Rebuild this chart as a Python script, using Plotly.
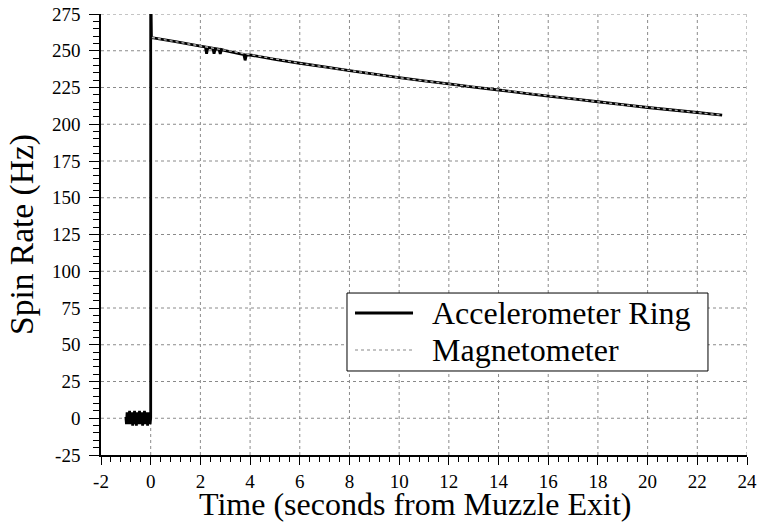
import plotly.graph_objects as go

# ---- data ----
# pre-launch accelerometer noise (t < 0)
acc_pre_time = [-1.000, -0.975, -0.950, -0.925, -0.900, -0.875, -0.850, -0.825, -0.800, -0.775,
                -0.750, -0.725, -0.700, -0.675, -0.650, -0.625, -0.600, -0.575, -0.550, -0.525,
                -0.500, -0.475, -0.450, -0.425, -0.400, -0.375, -0.350, -0.325, -0.300, -0.275,
                -0.250, -0.225, -0.200, -0.175, -0.150, -0.125, -0.100, -0.075, -0.050, -0.025, 0.000]
acc_pre_rate = [1, -4, 4, -3, 3, -4, 5, -3, 3, -4,
                4, -5, 2, -3, 5, -4, 3, -5, 4, -3,
                3, -4, 5, -4, 3, -3, 4, -5, 3, -4,
                5, -3, 3, -4, 4, -5, 3, -3, 4, -4, 0]
# launch spike at muzzle exit
acc_spike_time = [0.0]
acc_spike_rate = [300]
# post-exit accelerometer (with small dropouts near 2-4 s)
acc_post_time = [0.03, 1, 2, 2.2, 2.25, 2.3, 2.5, 2.55, 2.6, 2.75, 2.8, 2.85, 3, 3.75, 3.8, 3.85, 4,
                 5, 6, 7, 8, 9, 10, 11, 12, 13, 14, 15, 16, 17, 18, 19, 20, 21, 22, 23]
acc_post_rate = [259, 256.2, 253.2, 252.6, 248.0, 252.3, 251.7, 248.0, 251.5, 251.0, 247.8, 250.8, 250.1,
                 247.3, 243.5, 247.1, 247.1,
                 244.2, 241.5, 239.0, 236.5, 234.1, 231.7, 229.5, 227.4, 225.3, 223.3, 221.2, 219.1,
                 217.2, 215.3, 213.3, 211.4, 209.7, 208.0, 206.2]
# magnetometer
mag_time = [0.05, 1, 2, 3, 4, 5, 6, 7, 8, 9, 10, 11, 12, 13, 14, 15, 16, 17, 18, 19, 20, 21, 22, 23]
mag_rate = [259, 256.2, 253.2, 250.1, 247.1, 244.2, 241.5, 239.0, 236.5, 234.1, 231.7, 229.5, 227.4,
            225.3, 223.3, 221.2, 219.1, 217.2, 215.3, 213.3, 211.4, 209.7, 208.0, 206.2]

x_ticks = [-2, 0, 2, 4, 6, 8, 10, 12, 14, 16, 18, 20, 22, 24]
y_ticks = [-25, 0, 25, 50, 75, 100, 125, 150, 175, 200, 225, 250, 275]
series_names = ["Accelerometer Ring", "Magnetometer"]
x_title = "Time (seconds from Muzzle Exit)"
y_title = "Spin Rate (Hz)"

FONT = "Liberation Serif, Times New Roman, serif"
ACC_LINE = dict(color="black", width=2.8)
MAG_LINE = dict(color="#b0b0b0", width=1.4, dash="dot")
GRID = dict(color="#8a8a8a", width=1, dash="dot")

acc_time = acc_pre_time + acc_spike_time + acc_post_time
acc_rate = acc_pre_rate + acc_spike_rate + acc_post_rate

fig = go.Figure()
fig.add_trace(go.Scatter(x=acc_time, y=acc_rate, mode="lines", name=series_names[0],
                         line=dict(**ACC_LINE, simplify=False), showlegend=False))
fig.add_trace(go.Scatter(x=mag_time, y=mag_rate, mode="lines", name=series_names[1],
                         line=MAG_LINE, showlegend=False))

# dotted grid at major ticks (excluding the axis lines themselves)
for xv in x_ticks[1:]:
    fig.add_shape(type="line", xref="x", yref="paper", x0=xv, x1=xv, y0=0, y1=1,
                  line=GRID, layer="below")
for yv in y_ticks[1:]:
    fig.add_shape(type="line", xref="paper", yref="y", x0=0, x1=1, y0=yv, y1=yv,
                  line=GRID, layer="below")

# legend box drawn by hand (paper coordinates)
fig.add_shape(type="rect", xref="paper", yref="paper", x0=0.3808, x1=0.9396, y0=0.1905, y1=0.3673,
              line=dict(color="black", width=1), fillcolor="white", layer="above")
legend_rows = [(0.322, ACC_LINE), (0.238, MAG_LINE)]
for (ry, ln), nm in zip(legend_rows, series_names):
    fig.add_shape(type="line", xref="paper", yref="paper", x0=0.3932, x1=0.483, y0=ry, y1=ry,
                  line=ln, layer="above")
    fig.add_annotation(xref="paper", yref="paper", x=0.5090, y=ry, text=nm, showarrow=False,
                       xanchor="left", yanchor="middle",
                       font=dict(family=FONT, size=32, color="black"))

# x-axis title placed as an annotation below the tick labels
fig.add_annotation(xref="paper", yref="paper", x=0.487, y=0, yshift=-49, text=x_title,
                   showarrow=False, xanchor="center", yanchor="middle",
                   font=dict(family=FONT, size=32, color="black"))

fig.update_layout(
    width=759, height=528,
    margin=dict(l=101, r=12, t=14, b=73, autoexpand=False),
    paper_bgcolor="white", plot_bgcolor="white",
    font=dict(family=FONT, color="black"),
    showlegend=False,
)
fig.update_xaxes(
    range=[-2, 24], tickvals=x_ticks, ticktext=[str(v) for v in x_ticks],
    automargin=False,
    showline=True, linecolor="black", linewidth=1.5,
    ticks="outside", ticklen=8, tickwidth=1.2, tickcolor="black",
    tickfont=dict(family=FONT, size=19, color="black"),
    ticklabelstandoff=0,
    showgrid=False, zeroline=False,
    minor=dict(dtick=0.4, tick0=0, ticks="outside", ticklen=5, tickwidth=1, tickcolor="black"),
)
fig.update_yaxes(
    range=[-25, 275], tickvals=y_ticks, ticktext=[str(v) for v in y_ticks],
    automargin=False,
    showline=True, linecolor="black", linewidth=1.5,
    ticks="outside", ticklen=10, tickwidth=1.2, tickcolor="black",
    tickfont=dict(family=FONT, size=19, color="black"),
    ticklabelstandoff=5,
    showgrid=False, zeroline=False,
    minor=dict(dtick=5, tick0=0, ticks="outside", ticklen=6, tickwidth=1, tickcolor="black"),
    title=dict(text=y_title, font=dict(family=FONT, size=33.5, color="black"), standoff=8),
)

fig.write_html("out.html")
